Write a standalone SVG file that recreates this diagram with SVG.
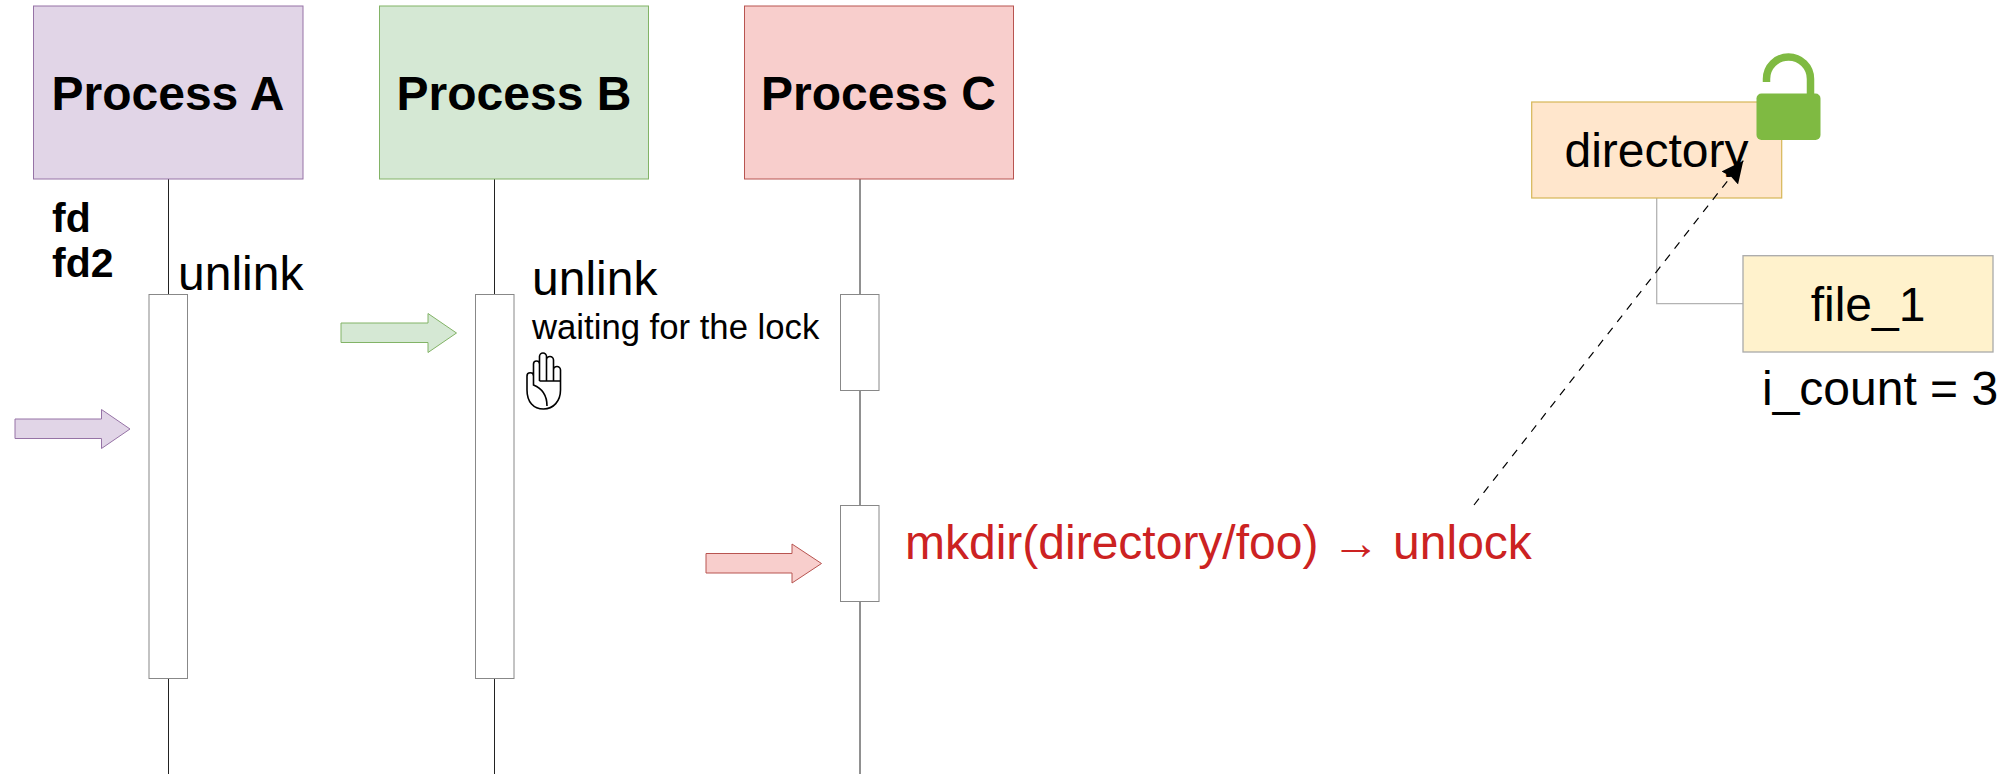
<svg xmlns="http://www.w3.org/2000/svg" width="2013" height="774" viewBox="0 0 2013 774">
<style>
text{font-family:"Liberation Sans",Arial,sans-serif;fill:#000}
.t{font-size:48px;font-weight:700;text-anchor:middle}
.l{font-size:48px}
.b{font-size:41px;font-weight:700}
.life{fill:none;stroke:#222;stroke-width:1}
.act{fill:#fff;stroke:#888;stroke-width:1}
</style>
<defs><marker id="ah" markerUnits="userSpaceOnUse" markerWidth="30" markerHeight="30" refX="22" refY="10.500" orient="auto"><path d="M0 0L22 10.500L0 21L2 10.500Z" fill="#000"/></marker></defs>
<g id="connectors">
<path class="life" d="M168.500 179V774M494.500 179V774M860 179V774"/>
<path d="M1656.700 198V303.700H1743" fill="none" stroke="#b3b3b3" stroke-width="1.300"/>
</g>
<g id="process-a"><rect x="33.500" y="6" width="269.500" height="173" fill="#e1d5e7" stroke="#9673a6"/><text class="t" x="168" y="110">Process A</text></g>
<g id="process-b"><rect x="379.500" y="6" width="269" height="173" fill="#d5e8d4" stroke="#82b366"/><text class="t" x="514" y="110">Process B</text></g>
<g id="process-c"><rect x="744.500" y="6" width="269" height="173" fill="#f8cecc" stroke="#b85450"/><text class="t" x="878.500" y="110">Process C</text></g>
<g id="activation-a"><rect class="act" x="149" y="294.500" width="38.500" height="384"/></g>
<g id="activation-b"><rect class="act" x="475.500" y="294.500" width="38.500" height="384"/></g>
<g id="activation-c1"><rect class="act" x="840.500" y="294.500" width="38.500" height="96"/></g>
<g id="activation-c2"><rect class="act" x="840.500" y="505.500" width="38.500" height="96"/></g>
<g id="fd-label"><text class="b" x="52" y="232">fd</text><text class="b" x="52" y="277">fd2</text></g>
<g id="unlink-a"><text class="l" x="178" y="290">unlink</text></g>
<g id="unlink-b"><text class="l" x="532" y="295">unlink</text><text x="532" y="339" font-size="34.700">waiting for the lock</text></g>
<g id="arrow-a"><path d="M15 419H101.500V409.500L130 429L101.500 448.500V438.500H15Z" fill="#e1d5e7" stroke="#9673a6"/></g>
<g id="arrow-b"><path d="M341 323H428V313.500L456.500 333L428 352.500V342.500H341Z" fill="#d5e8d4" stroke="#82b366"/></g>
<g id="arrow-c"><path d="M706 553.500H792V544L821.500 563.500L792 583V573H706Z" fill="#f8cecc" stroke="#b85450"/></g>
<g id="hand"><path d="M527 376a3.250 3.250 0 0 1 6.500 0V364a3 3 0 0 1 6 0V356.500a3.500 3.500 0 0 1 7 0V360a3.500 3.500 0 0 1 7 0V370a3.500 3.500 0 0 1 7 0V390c0 11-7 19-17 19s-16.500-7-16.500-19ZM539.500 364V381M546.500 356.500V381M553.500 360V381M539.500 381H560.500M533.500 376V385C541 388 547 395 547 406" fill="none" stroke="#000" stroke-width="1.600"/></g>
<g id="directory"><rect x="1531.700" y="102" width="250" height="96" fill="#ffe6cc" stroke="#d6b656" stroke-width="1.200"/><text class="l" x="1656.500" y="167" text-anchor="middle">directory</text></g>
<g id="file-1"><rect x="1743" y="255.700" width="250" height="96.300" fill="#fff2cc" stroke="#aaa" stroke-width="1.300"/><text class="l" x="1868" y="321" text-anchor="middle">file_1</text></g>
<g id="lock"><path d="M1766.500 82V79A22 22 0 0 1 1810.500 79V96" fill="none" stroke="#7fba42" stroke-width="7.500"/><rect x="1756.500" y="93.500" width="64" height="46.500" rx="5" fill="#7fba42"/></g>
<g id="i-count"><text class="l" x="1762" y="405">i_count = 3</text></g>
<g id="mkdir-label"><text class="l" x="905" y="559" style="fill:#cc2222">mkdir(directory/foo) → unlock</text></g>
<g id="dashed-connector"><path d="M1474 505L1743.300 160.700" fill="none" stroke="#000" stroke-width="1.200" stroke-dasharray="8 7.500" marker-end="url(#ah)"/></g>
</svg>
